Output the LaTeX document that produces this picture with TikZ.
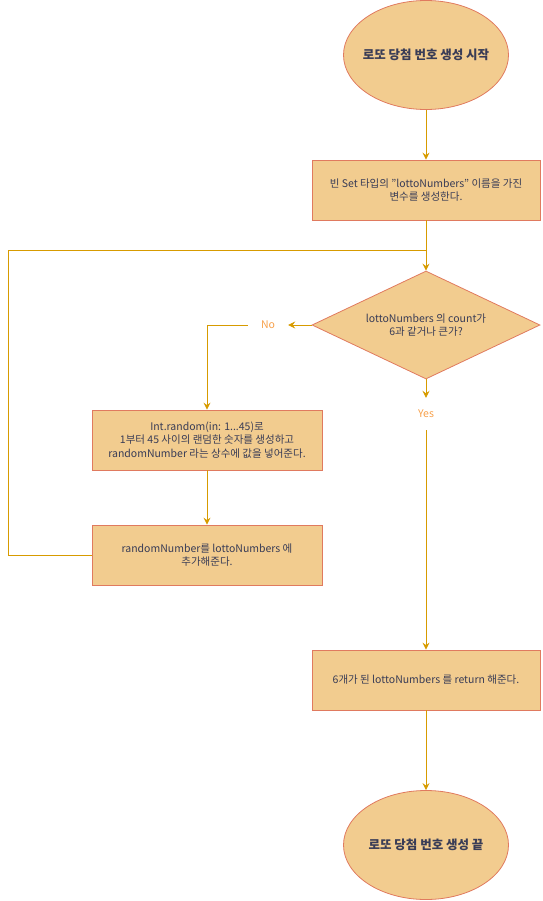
\documentclass[tikz,border=0pt]{standalone}
\usepackage{fontspec}
\setmainfont{Noto Sans CJK KR}
\usetikzlibrary{shapes.geometric,arrows.meta}
\definecolor{boxfill}{HTML}{F2CC8F}
\definecolor{boxline}{HTML}{E07A5F}
\definecolor{flow}{HTML}{D79B00}
\definecolor{ink}{HTML}{393C56}
\definecolor{tag}{HTML}{F7A04A}
\begin{document}
\begin{tikzpicture}[x=1pt,y=-1pt,
  terminal/.style={ellipse, draw=boxline, fill=boxfill, line width=0.8pt,
    minimum width=165pt, minimum height=109pt, inner sep=0pt,
    label={[text=ink, font=\bfseries\fontsize{12.5}{15}\selectfont]center:#1}},
  process/.style={rectangle, draw=boxline, fill=boxfill, line width=0.8pt,
    minimum width=228pt, minimum height=60pt, inner sep=0pt, align=center,
    text=ink, font=\fontsize{10.5}{13.5}\selectfont},
  decision/.style={diamond, draw=boxline, fill=boxfill, line width=0.8pt,
    aspect=2.1, minimum width=228pt, minimum height=108pt, inner sep=0pt,
    align=center, text=ink, font=\fontsize{10.5}{13.5}\selectfont},
  tagtext/.style={text=tag, inner sep=0pt, font=\fontsize{10.5}{13}\selectfont},
  flowline/.style={draw=flow, line width=0.9pt},
  flowarrow/.style={flowline, -{Stealth[length=7pt,width=7pt,inset=2.5pt]}}]

  \useasboundingbox (0,0) rectangle (542,901);

  % nodes
  \node[terminal={로또 당첨 번호 생성 시작}] (start) at (426,55) {};
  \node[process] (init) at (426,190)
    {빈 Set 타입의 "lottoNumbers" 이름을 가진\\변수를 생성한다.};
  \coordinate (merge) at (426,250);
  \node[decision] (check) at (426,325)
    {lottoNumbers 의 count가\\6과 같거나 큰가?};
  \node[tagtext, minimum width=40pt, minimum height=14pt] (no) at (268,325) {No};
  \node[tagtext, minimum width=30pt, minimum height=32pt] (yes) at (426,414) {Yes};
  \node[process, minimum width=230pt] (rand) at (207,440)
    {Int.random(in: 1...45)로\\1부터 45 사이의 랜덤한 숫자를 생성하고\\randomNumber 라는 상수에 값을 넣어준다.};
  \node[process, minimum width=230pt] (add) at (207,555)
    {randomNumber를 lottoNumbers 에\\추가해준다.};
  \node[process] (ret) at (426,680)
    {6개가 된 lottoNumbers 를 return 해준다.};
  \node[terminal={로또 당첨 번호 생성 끝}] (finish) at (426,845) {};
  \coordinate (loopcorner) at (8,250);

  % connectors
  \draw[flowarrow] (start) -- (init);
  \draw[flowline] (init) -- (merge);
  \draw[flowarrow] (merge) -- (check);
  \draw[flowarrow] (check.west) -- (no.east);
  \draw[flowarrow] (no.west) -| (rand.north);
  \draw[flowarrow] (rand) -- (add);
  \draw[flowline] (add.west) -| (loopcorner) -- (merge);
  \draw[flowarrow] (check.south) -- (yes.north);
  \draw[flowarrow] (yes.south) -- (ret.north);
  \draw[flowarrow] (ret) -- (finish);
\end{tikzpicture}
\end{document}
